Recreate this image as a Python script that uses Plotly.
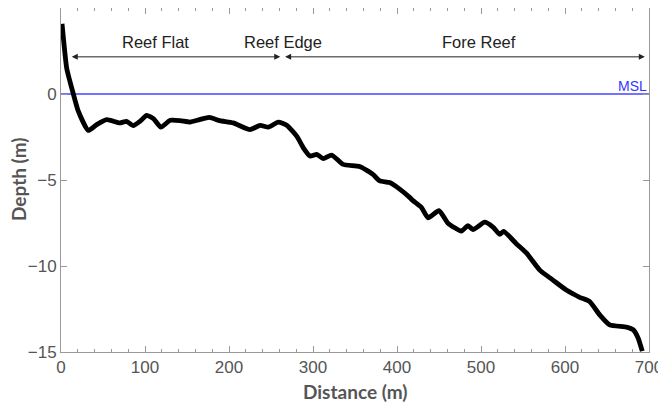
import plotly.graph_objects as go

distance = [1.2, 6.8, 10.7, 14.7, 20.6, 32.5, 42.5, 54.4, 70, 78, 86, 94, 102, 110, 119, 130,
            141.7, 153.6, 165, 176.6, 189, 205, 225, 237, 246.8, 258.7, 268.7, 280.6, 288.5,
            296.4, 304.4, 312.3, 322.2, 335.7, 355.6, 371, 379.4, 391.3, 403.2, 415, 419, 429,
            437, 450, 460.7, 476.6, 484.5, 490.5, 504.4, 514.3, 522.2, 527, 542, 554, 570,
            585.7, 601.6, 617.5, 629.4, 641.3, 653.2, 673, 681, 687, 692]
depth = [4.08, 1.49, 0.72, 0.0, -1.0, -2.12, -1.78, -1.49, -1.68, -1.59, -1.84, -1.59, -1.24,
         -1.43, -1.93, -1.53, -1.55, -1.63, -1.49, -1.36, -1.55, -1.68, -2.07, -1.82, -1.93,
         -1.63, -1.82, -2.45, -3.13, -3.61, -3.51, -3.76, -3.55, -4.09, -4.22, -4.66, -5.05,
         -5.15, -5.53, -6.01, -6.2, -6.59, -7.2, -6.78, -7.51, -7.97, -7.65, -7.89, -7.45,
         -7.74, -8.16, -7.99, -8.7, -9.24, -10.24, -10.82, -11.4, -11.82, -12.07, -12.84,
         -13.42, -13.55, -13.7, -14.18, -14.95]

zones = ["Reef Flat", "Reef Edge", "Fore Reef"]
zone_label_x = [112, 264, 498]
zone_label_y = 3.0
arrow_y = 2.16
flat_span = [11, 261]
fore_span = [265, 695]
msl = 0

x_ticks = [0, 100, 200, 300, 400, 500, 600, 700]
y_ticks = [-15, -10, -5, 0]

fig = go.Figure()
fig.add_trace(go.Scatter(x=[0, 700], y=[msl, msl], mode="lines",
                         line=dict(color="#4545ff", width=1.5), hoverinfo="skip",
                         showlegend=False))
fig.add_trace(go.Scatter(x=distance, y=depth, mode="lines",
                         line=dict(color="black", width=4.8, shape="spline", smoothing=0.5),
                         showlegend=False))

ann_font = dict(family="Liberation Sans", size=16.5, color="#222")
for name, lx in zip(zones, zone_label_x):
    fig.add_annotation(x=lx, y=zone_label_y, text=name, showarrow=False, font=ann_font)

for span in (flat_span, fore_span):
    fig.add_annotation(x=span[1], y=arrow_y, ax=span[0], ay=arrow_y, axref="x", ayref="y",
                       xref="x", yref="y", text="", showarrow=True, arrowhead=2,
                       arrowside="end+start", arrowsize=1.2, arrowwidth=1, arrowcolor="#222")

fig.add_annotation(x=700, y=msl, text="MSL", showarrow=False, xanchor="right",
                   yanchor="bottom", yshift=-2,
                   font=dict(family="Liberation Sans", size=14, color="#3535ff"))

title_font = dict(family="Lato", size=19, color="#555")
fig.add_annotation(xref="paper", yref="paper", x=0.5, y=0, yshift=-39, text="<b>Distance (m)</b>",
                   showarrow=False, font=title_font, yanchor="middle")
fig.add_annotation(xref="paper", yref="paper", x=0, y=0.5, xshift=-43, text="<b>Depth (m)</b>",
                   showarrow=False, font=title_font, textangle=-90, xanchor="center")

axis_common = dict(showline=True, linecolor="#999", linewidth=1, mirror="ticks",
                   ticks="inside", tickcolor="#999", showgrid=False, zeroline=False,
                   automargin=False,
                   tickfont=dict(family="Liberation Sans", size=17, color="#555"))
fig.update_xaxes(range=[0, 700], tickvals=x_ticks, ticklen=6,
                 minor=dict(ticks="inside", dtick=20, ticklen=3, tickcolor="#999"),
                 **axis_common)
fig.update_yaxes(range=[-15, 5], tickvals=y_ticks, ticklen=6, **axis_common)

# page body has an 8px margin, so the figure is shifted by 8px; size accordingly
fig.update_layout(width=658, height=397, margin=dict(l=53, r=17, t=0, b=53),
                  plot_bgcolor="white", paper_bgcolor="white")
fig.write_html("out.html")
